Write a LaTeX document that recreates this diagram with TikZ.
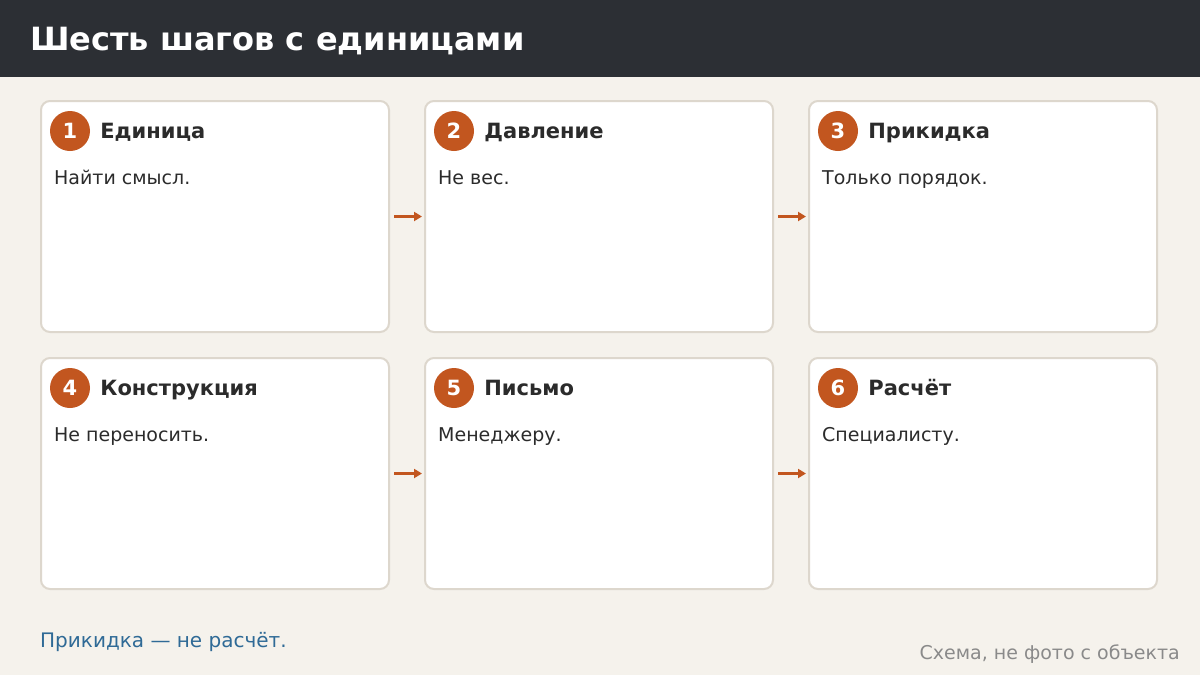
\documentclass[tikz,border=0pt]{standalone}
\usepackage{fontspec}
\setmainfont{DejaVu Sans}
\usetikzlibrary{positioning,arrows.meta}

\definecolor{headbg}{HTML}{2C2F34}
\definecolor{pagebg}{HTML}{F5F2EC}
\definecolor{cardline}{HTML}{DDD7CD}
\definecolor{badgeorange}{HTML}{C2561F}
\definecolor{ink}{HTML}{2B2B2B}
\definecolor{noteblue}{HTML}{2F6A96}
\definecolor{sourcegray}{HTML}{8A8A8A}

\begin{document}
\begin{tikzpicture}[x=1pt, y=-1pt]
\tikzstyle{card}=[rectangle, rounded corners=9pt, draw=cardline, line width=2pt, fill=white, minimum width=348pt, minimum height=231pt, inner sep=0pt]
\tikzstyle{badge}=[circle, fill=badgeorange, minimum size=40pt, inner sep=0pt, text=white, font=\fontsize{21}{24}\selectfont\bfseries]
\tikzstyle{card title}=[anchor=base west, inner sep=0pt, text=ink, font=\fontsize{21}{24}\selectfont\bfseries]
\tikzstyle{card text}=[anchor=base west, inner sep=0pt, text=ink, font=\fontsize{19}{22}\selectfont]
\tikzstyle{karrow}=[-{Triangle[length=8pt, width=9pt]}, line width=3.5pt, draw=badgeorange]

\useasboundingbox (0,0) rectangle (1200,675);

% Page and header bar
\fill[pagebg] (0,0) rectangle (1200,675);
\fill[headbg] (0,0) rectangle (1200,77);
\node[anchor=base west, inner sep=0pt, text=white, font=\fontsize{32}{38}\selectfont\bfseries] (Title) at (30,50) {Шесть шагов с единицами};

% Draw the six step cards
\foreach \n/\t/\b [count=\i from 0] in {1/Единица/Найти смысл., 2/Давление/Не вес., 3/Прикидка/Только порядок., 4/Конструкция/Не переносить., 5/Письмо/Менеджеру., 6/Расчёт/Специалисту.} {
    \pgfmathtruncatemacro{\col}{mod(\i,3)}
    \pgfmathtruncatemacro{\row}{int(\i/3)}
    \node[card] (card\n) at (215 + 384*\col, 216.5 + 257*\row) {};
    \node[badge, xshift=30pt, yshift=-31pt] (badge\n) at (card\n.north west) {\n};
    \node[card title, xshift=10pt, yshift=-7pt] (title\n) at (badge\n.east) {\t};
    \node[card text, xshift=14pt, yshift=-84pt] (text\n) at (card\n.north west) {\b};
};

% Arrows between neighbouring cards
\foreach \a/\b in {1/2, 2/3, 4/5, 5/6}
    \draw[karrow, shorten <=4pt, shorten >=2pt] (card\a.east) -- (card\b.west);

% Footer notes
\node[anchor=base west, inner sep=0pt, text=noteblue, font=\fontsize{20}{24}\selectfont] (Note) at (40,647) {Прикидка — не расчёт.};
\node[anchor=base east, inner sep=0pt, text=sourcegray, font=\fontsize{19}{22}\selectfont] (Source) at (1180,659) {Схема, не фото с объекта};

\end{tikzpicture}
\end{document}
